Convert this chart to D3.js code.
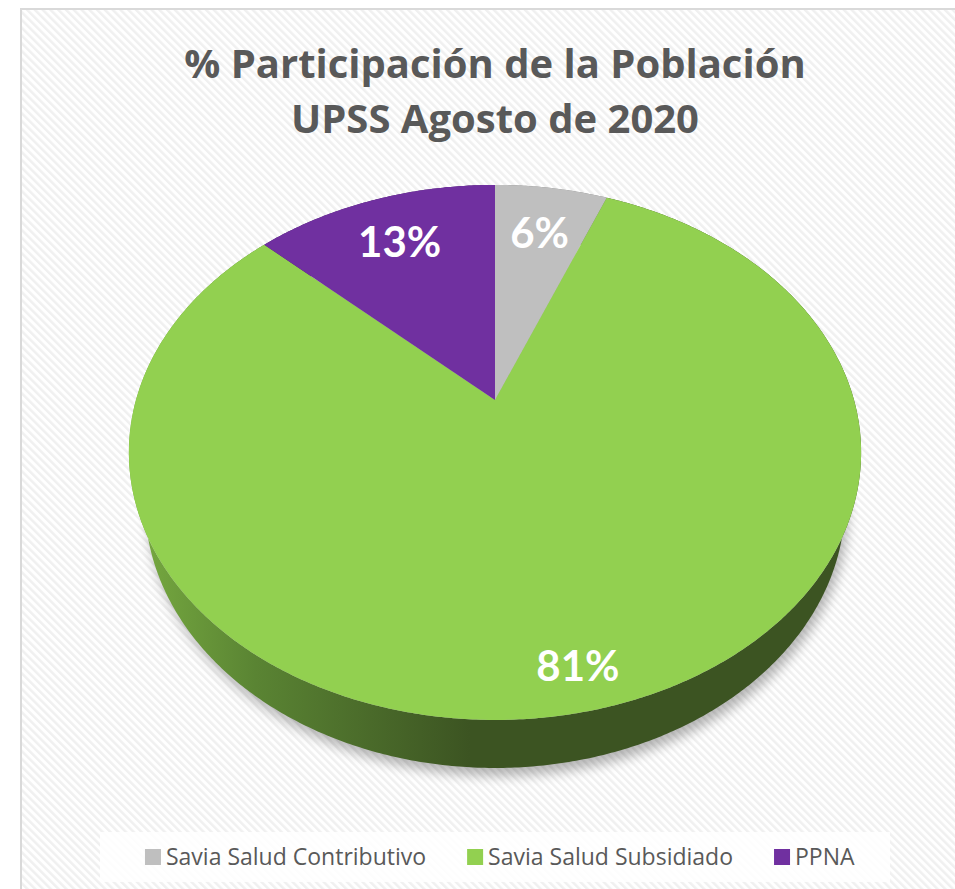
<!DOCTYPE html>
<html>
<head>
<meta charset="utf-8">
<script src="https://cdn.jsdelivr.net/npm/d3@7"></script>
<style>
  body { margin: 0; background: #fff; }
  svg { display: block; }
</style>
</head>
<body>
<div id="chart"></div>
<script>
// chart data
var categories = ["Savia Salud Contributivo", "Savia Salud Subsidiado", "PPNA"];
var shares = [6, 81, 13];
var labels = ["6%", "81%", "13%"];
var colors = ["#bfbfbf", "#92d050", "#7030a0"];
var titleLines = ["% Participación de la Población", "UPSS Agosto de 2020"];

var svgWidth = 955;
var svgHeight = 889;

// 3d view of the pie: camera at unit distance, disk radius R, tilt phi
var view = {
  cx: 495,
  cy: 400,
  f: 1277.6,
  R: 0.281,
  phi: 45.77 * Math.PI / 180,
  thick: 0.0615
};
var sinP = Math.sin(view.phi), cosP = Math.cos(view.phi);

// angle is clockwise from the far point of the disk
function project(angle, r, drop) {
  var x = r * view.R * Math.sin(angle);
  var z = r * view.R * Math.cos(angle);
  var Y = z * sinP - drop * cosP;
  var Zc = 1 + z * cosP + drop * sinP;
  return [view.cx + view.f * x / Zc, view.cy - view.f * Y / Zc];
}

function arcPoints(a0, a1, drop) {
  var n = Math.max(2, Math.ceil(Math.abs(a1 - a0) / (Math.PI / 360)));
  var pts = d3.range(n + 1).map(function(i) {
    return project(a0 + (a1 - a0) * i / n, 1, drop);
  });
  return pts;
}

var line = d3.line().curve(d3.curveLinearClosed);

var svg = d3.select("#chart").append("svg")
  .attr("width", svgWidth)
  .attr("height", svgHeight);

var defs = svg.append("defs");

var hatch = defs.append("pattern")
  .attr("id", "hatch")
  .attr("width", 5.5)
  .attr("height", 5.5)
  .attr("patternUnits", "userSpaceOnUse")
  .attr("patternTransform", "rotate(-45)");
hatch.append("rect").attr("width", 5.5).attr("height", 5.5).attr("fill", "#ffffff");
hatch.append("rect").attr("width", 2.5).attr("height", 5.5).attr("fill", "#f0f0f0");

var sideGrad = defs.append("linearGradient")
  .attr("id", "sideGrad")
  .attr("gradientUnits", "userSpaceOnUse")
  .attr("x1", 140).attr("y1", 0)
  .attr("x2", 470).attr("y2", 0);
sideGrad.append("stop").attr("offset", "0%").attr("stop-color", "#76a940");
sideGrad.append("stop").attr("offset", "35%").attr("stop-color", "#5a8433");
sideGrad.append("stop").attr("offset", "100%").attr("stop-color", "#3c5422");

var blur = defs.append("filter")
  .attr("id", "blur")
  .attr("x", "-20%").attr("y", "-20%")
  .attr("width", "140%").attr("height", "140%");
blur.append("feGaussianBlur").attr("stdDeviation", 6);

// background and border
svg.append("rect")
  .attr("width", svgWidth)
  .attr("height", svgHeight)
  .attr("fill", "#ffffff");

svg.append("rect")
  .attr("x", 21)
  .attr("y", 9)
  .attr("width", 960)
  .attr("height", 900)
  .attr("fill", "url(#hatch)")
  .attr("stroke", "#d9d9d9")
  .attr("stroke-width", 2);

// title
svg.append("g")
  .selectAll("text")
  .data(titleLines)
  .enter()
  .append("text")
  .attr("x", 495)
  .attr("y", function(d, i) { return 78 + i * 55; })
  .attr("text-anchor", "middle")
  .attr("font-family", "'Open Sans', sans-serif")
  .attr("font-weight", "bold")
  .attr("font-size", 40)
  .attr("fill", "#595959")
  .text(function(d) { return d; });

// pie angles
var pie = d3.pie().sort(null).value(function(d) { return d; });
var arcs = pie(shares);

var pieGroup = svg.append("g");

// soft shadow under the disk
pieGroup.append("path")
  .attr("d", line(arcPoints(0, 2 * Math.PI, view.thick)))
  .attr("transform", "translate(3, 8)")
  .attr("fill", "#000")
  .attr("opacity", 0.28)
  .attr("filter", "url(#blur)");

// side walls
pieGroup.selectAll(".side")
  .data(arcs)
  .enter()
  .append("path")
  .attr("class", "side")
  .attr("d", function(d) {
    var top = arcPoints(d.startAngle, d.endAngle, 0);
    var bottom = arcPoints(d.endAngle, d.startAngle, view.thick);
    return line(top.concat(bottom));
  })
  .attr("fill", function(d, i) {
    return i === 1 ? "url(#sideGrad)" : d3.color(colors[i]).darker(1.2);
  });

// top faces
pieGroup.selectAll(".slice")
  .data(arcs)
  .enter()
  .append("path")
  .attr("class", "slice")
  .attr("d", function(d) {
    var pts = [project(0, 0, 0)].concat(arcPoints(d.startAngle, d.endAngle, 0));
    return line(pts);
  })
  .attr("fill", function(d, i) { return colors[i]; });

// data labels
pieGroup.selectAll(".label")
  .data(arcs)
  .enter()
  .append("text")
  .attr("class", "label")
  .attr("transform", function(d) {
    var mid = (d.startAngle + d.endAngle) / 2;
    var r = (d.endAngle - d.startAngle) > Math.PI ? 0.88 : 0.76;
    var p = project(mid, r, 0);
    return "translate(" + p[0] + "," + p[1] + ")";
  })
  .attr("text-anchor", "middle")
  .attr("dy", "0.36em")
  .attr("font-family", "Lato, sans-serif")
  .attr("font-weight", "bold")
  .attr("font-size", 42)
  .attr("fill", "#ffffff")
  .text(function(d, i) { return labels[i]; });

// legend
svg.append("rect")
  .attr("x", 100)
  .attr("y", 832)
  .attr("width", 790)
  .attr("height", 50)
  .attr("fill", "#ffffff")
  .attr("opacity", 0.85);

var legend = svg.append("g");
var items = legend.selectAll("g")
  .data(categories)
  .enter()
  .append("g");

items.append("rect")
  .attr("width", 16)
  .attr("height", 16)
  .attr("y", 849)
  .attr("fill", function(d, i) { return colors[i]; });

items.append("text")
  .attr("x", 21)
  .attr("y", 865)
  .attr("font-family", "'Open Sans', sans-serif")
  .attr("font-size", 23)
  .attr("fill", "#595959")
  .text(function(d) { return d; });

var widths = [];
items.each(function() { widths.push(this.getBBox().width); });
var gap = 41;
var total = d3.sum(widths) + gap * (widths.length - 1);
var xPos = 500 - total / 2;
items.attr("transform", function(d, i) {
  var t = "translate(" + xPos + ",0)";
  xPos += widths[i] + gap;
  return t;
});
</script>
</body>
</html>
